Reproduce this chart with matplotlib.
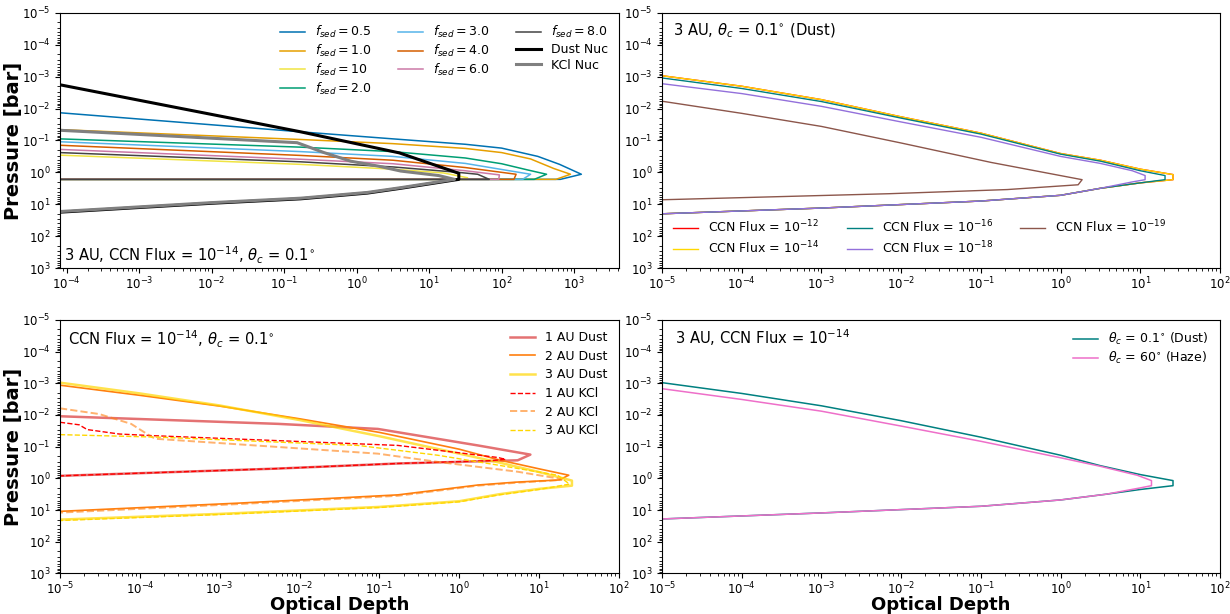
import numpy as np
import matplotlib
matplotlib.use("Agg")
import matplotlib.pyplot as plt

# ---------------- data (log10 values) ----------------
# Panel (a): fsed models, 3 AU, CCN flux 1e-14
fsed_labels = ["0.5", "1.0", "10", "2.0", "3.0", "4.0", "6.0", "8.0"]
fsed_colors = ["#0072B2", "#E69F00", "#F0E442", "#009E73", "#56B4E9", "#D55E00", "#CC79A7", "#444444"]

f05_lt = [-4.1, -0.77, 0.5, 1.5, 2.0, 2.5, 2.8, 3.10, 2.81, -12]
f05_lp = [-1.87, -1.27, -1.05, -0.88, -0.76, -0.50, -0.25, 0.06, 0.22, 0.22]
f10_lt = [-4.1, -0.77, 0.5, 1.5, 2.0, 2.4, 2.72, 2.95, 2.75, -12]
f10_lp = [-1.34, -1.03, -0.90, -0.75, -0.62, -0.42, -0.12, 0.06, 0.22, 0.22]
f100_lt = [-4.1, -0.77, 0.5, 1.2, 1.53, 1.53, -12]
f100_lp = [-0.54, -0.25, -0.10, 0.02, 0.17, 0.22, 0.22]
f20_lt = [-4.1, -0.77, 0.5, 1.5, 2.0, 2.35, 2.62, 2.45, -12]
f20_lp = [-1.05, -0.79, -0.65, -0.45, -0.27, -0.08, 0.06, 0.22, 0.22]
f30_lt = [-4.1, -0.77, 0.5, 1.5, 2.0, 2.40, 2.29, -12]
f30_lp = [-0.96, -0.65, -0.50, -0.28, -0.09, 0.06, 0.22, 0.22]
f40_lt = [-4.1, -0.77, 0.5, 1.5, 2.0, 2.20, 2.17, -12]
f40_lp = [-0.85, -0.53, -0.38, -0.15, 0.00, 0.06, 0.22, 0.22]
f60_lt = [-4.1, -0.77, 0.5, 1.5, 1.97, 1.96, -12]
f60_lp = [-0.72, -0.41, -0.27, -0.05, 0.08, 0.22, 0.22]
f80_lt = [-4.1, -0.77, 0.5, 1.4, 1.67, 1.83, -12]
f80_lp = [-0.62, -0.33, -0.17, 0.00, 0.06, 0.22, 0.22]

dustnuc_lt = [-4.1, -0.77, 0.59, 1.41, 1.41, 1.35, 0.61, 0.15, -0.77, -2.0, -4.1]
dustnuc_lp = [-2.75, -1.27, -0.61, 0.03, 0.22, 0.24, 0.50, 0.65, 0.83, 0.97, 1.25]
kclnuc_lt = [-4.1, -0.82, -0.45, -0.08, 0.31, 0.61, 1.13, 1.35, 0.61, 0.15, -0.77, -2.0, -4.1]
kclnuc_lp = [-1.32, -0.93, -0.62, -0.35, -0.19, -0.04, 0.10, 0.22, 0.48, 0.63, 0.81, 0.95, 1.23]

# Panel (b): CCN flux, 3 AU, theta_c = 0.1 deg (Dust)
ccn_labels = ["-12", "-14", "-16", "-18", "-19"]
ccn_colors = ["red", "gold", "#008080", "mediumpurple", "#8c564b"]
c12_lt = [-5, -4, -3, -2, -1, 0, 0.5, 1.0, 1.41, 1.41, 1.0, 0.5, 0, -1, -3, -5]
c12_lp = [-3.03, -2.70, -2.28, -1.74, -1.23, -0.59, -0.38, -0.10, 0.07, 0.23, 0.33, 0.50, 0.72, 0.90, 1.12, 1.30]
c14_lt = [-5, -4, -3, -2, -1, 0, 0.5, 1.0, 1.41, 1.41, 1.0, 0.5, 0, -1, -3, -5]
c14_lp = [-3.03, -2.70, -2.28, -1.74, -1.23, -0.59, -0.38, -0.10, 0.07, 0.23, 0.33, 0.50, 0.72, 0.90, 1.12, 1.30]
c16_lt = [-5, -4, -3, -2, -1, 0, 0.5, 1.0, 1.31, 1.31, 1.0, 0.5, 0, -1, -3, -5]
c16_lp = [-2.96, -2.63, -2.22, -1.70, -1.20, -0.57, -0.35, -0.05, 0.10, 0.23, 0.33, 0.50, 0.72, 0.90, 1.12, 1.30]
c18_lt = [-5, -4, -3, -2, -1, 0, 0.5, 0.9, 1.06, 1.06, 0.9, 0.5, 0, -1, -3, -5]
c18_lp = [-2.78, -2.47, -2.07, -1.58, -1.10, -0.50, -0.28, -0.05, 0.10, 0.23, 0.30, 0.50, 0.72, 0.90, 1.12, 1.30]
c19_lt = [-5, -4, -3, -2, -0.87, 0.27, 0.22, -0.67, -2.15, -5]
c19_lp = [-2.23, -1.85, -1.44, -0.92, -0.31, 0.23, 0.39, 0.54, 0.67, 0.86]

# Panel (c): distance, CCN flux 1e-14, theta_c = 0.1 deg
au_labels = ["1 AU Dust", "2 AU Dust", "3 AU Dust", "1 AU KCl", "2 AU KCl", "3 AU KCl"]
d1_lt = [-5, -2.27, -1.02, 0.23, 0.89, 0.73, -0.77, -2.27, -5]
d1_lp = [-1.96, -1.72, -1.56, -1.04, -0.75, -0.57, -0.47, -0.31, -0.08]
d2_lt = [-5, -4, -3, -2, -1, 0, 0.5, 1.0, 1.37, 1.25, 0.7, 0.23, -0.77, -2.76, -5]
d2_lp = [-2.94, -2.62, -2.28, -1.88, -1.45, -0.92, -0.58, -0.30, -0.10, 0.05, 0.12, 0.21, 0.52, 0.78, 1.04]
d3_lt = [-5, -4, -3, -2, -1, 0, 0.5, 1.0, 1.41, 1.41, 1.0, 0.5, 0, -1, -3, -5]
d3_lp = [-3.02, -2.68, -2.30, -1.84, -1.33, -0.78, -0.50, -0.20, 0.07, 0.23, 0.33, 0.50, 0.72, 0.90, 1.12, 1.30]
k1_lt = [-5, -4.76, -4.66, -4.26, -3.86, -0.77, 0.48, 0.58, 0.40, -0.77, -2.27, -5]
k1_lp = [-1.77, -1.69, -1.54, -1.40, -1.35, -1.04, -0.66, -0.60, -0.56, -0.47, -0.31, -0.08]
k2_lt = [-5, -4.51, -4.11, -3.91, -3.81, -1.02, -0.27, 0.73, 1.23, 1.28, 0.7, 0.23, -0.77, -2.76, -5]
k2_lp = [-2.21, -2.03, -1.72, -1.40, -1.25, -0.78, -0.52, -0.21, 0.00, 0.05, 0.14, 0.23, 0.55, 0.81, 1.08]
k3_lt = [-5, -3.76, -1.27, -0.27, 0.48, 1.23, 1.38, 1.0, 0.5, 0, -1, -3, -5]
k3_lp = [-1.38, -1.30, -1.04, -0.73, -0.42, -0.10, 0.18, 0.35, 0.52, 0.74, 0.92, 1.14, 1.33]

# Panel (d): contact angle, 3 AU, CCN flux 1e-14
th01_lt = [-5, -4, -3, -2, -1, 0, 0.5, 1.0, 1.41, 1.41, 1.0, 0.57, 0, -1, -3, -5]
th01_lp = [-3.02, -2.68, -2.29, -1.82, -1.30, -0.73, -0.40, -0.12, 0.07, 0.23, 0.35, 0.50, 0.68, 0.88, 1.09, 1.28]
th60_lt = [-5, -4, -3, -2, -1, 0, 0.5, 0.96, 1.14, 1.14, 1.0, 0.57, 0, -1, -3, -5]
th60_lp = [-2.83, -2.49, -2.12, -1.65, -1.17, -0.65, -0.38, -0.10, 0.07, 0.23, 0.30, 0.50, 0.68, 0.88, 1.09, 1.28]

yticks_exp = list(range(-5, 4))


def P(v):
    return 10.0 ** np.asarray(v, dtype=float)


fig = plt.figure(figsize=(12.3, 6.14), dpi=100)
ax1 = fig.add_axes([0.0488, 0.5635, 0.4545, 0.4155])
ax2 = fig.add_axes([0.5382, 0.5635, 0.4537, 0.4155])
ax3 = fig.add_axes([0.0488, 0.066, 0.4545, 0.4130])
ax4 = fig.add_axes([0.5382, 0.066, 0.4537, 0.4130])

LFS = 9

# Panel a
fsed_data = [(f05_lt, f05_lp), (f10_lt, f10_lp), (f100_lt, f100_lp), (f20_lt, f20_lp),
             (f30_lt, f30_lp), (f40_lt, f40_lp), (f60_lt, f60_lp), (f80_lt, f80_lp)]
for (lt, lp), lab, col in zip(fsed_data, fsed_labels, fsed_colors):
    ax1.plot(P(lt), P(lp), color=col, lw=1.1, label=r"$f_{sed} = %s$" % lab)
ax1.plot(P(dustnuc_lt), P(dustnuc_lp), color="black", lw=2.2, label="Dust Nuc")
ax1.plot(P(kclnuc_lt), P(kclnuc_lp), color="gray", lw=2.2, label="KCl Nuc")
ax1.set_xlim(10 ** -4.09, 10 ** 3.62)
ax1.legend(loc="upper right", ncol=3, frameon=False, fontsize=LFS, columnspacing=2.1,
           labelspacing=0.22)
ax1.text(0.008, 0.05, r"3 AU, CCN Flux = $10^{-14}$, $\theta_c$ = 0.1$^{\circ}$",
         transform=ax1.transAxes, fontsize=10.6, va="center")

# Panel b
ccn_data = [(c12_lt, c12_lp), (c14_lt, c14_lp), (c16_lt, c16_lp), (c18_lt, c18_lp), (c19_lt, c19_lp)]
for (lt, lp), lab, col in zip(ccn_data, ccn_labels, ccn_colors):
    ax2.plot(P(lt), P(lp), color=col, lw=1.0, label=r"CCN Flux = $10^{%s}$" % lab)
ax2.set_xlim(1e-5, 1e2)
ax2.legend(loc="lower left", ncol=3, frameon=False, fontsize=LFS, columnspacing=2.2,
           labelspacing=0.4)
ax2.text(0.02, 0.93, r"3 AU, $\theta_c$ = 0.1$^{\circ}$ (Dust)", transform=ax2.transAxes,
         fontsize=10.6, va="center")

# Panel c
ax3.plot(P(d1_lt), P(d1_lp), color="#d62728", lw=1.8, alpha=0.65, label=au_labels[0])
ax3.plot(P(d2_lt), P(d2_lp), color="#ff7f0e", lw=1.2, label=au_labels[1])
ax3.plot(P(d3_lt), P(d3_lp), color="gold", lw=1.8, alpha=0.7, label=au_labels[2])
ax3.plot(P(k1_lt), P(k1_lp), color="red", lw=1.0, ls="--", label=au_labels[3])
ax3.plot(P(k2_lt), P(k2_lp), color="#ff7f0e", lw=1.4, ls="--", alpha=0.6, label=au_labels[4])
ax3.plot(P(k3_lt), P(k3_lp), color="gold", lw=1.0, ls="--", label=au_labels[5])
ax3.set_xlim(1e-5, 1e2)
ax3.legend(loc="upper right", frameon=False, fontsize=LFS, labelspacing=0.45)
ax3.text(0.014, 0.922, r"CCN Flux = $10^{-14}$, $\theta_c$ = 0.1$^{\circ}$", transform=ax3.transAxes,
         fontsize=10.6, va="center")

# Panel d
ax4.plot(P(th01_lt), P(th01_lp), color="#008080", lw=1.1, label=r"$\theta_c$ = 0.1$^{\circ}$ (Dust)")
ax4.plot(P(th60_lt), P(th60_lp), color="#ee6fc9", lw=1.1, label=r"$\theta_c$ = 60$^{\circ}$ (Haze)")
ax4.set_xlim(1e-5, 1e2)
ax4.legend(loc="upper right", frameon=False, fontsize=LFS, labelspacing=0.25)
ax4.text(0.023, 0.93, r"3 AU, CCN Flux = $10^{-14}$", transform=ax4.transAxes,
         fontsize=10.6, va="center")

for ax in (ax1, ax2, ax3, ax4):
    ax.set_xscale("log")
    ax.set_yscale("log")
    ax.set_ylim(1e3, 1e-5)
    ax.set_yticks([10.0 ** e for e in yticks_exp])
    ax.yaxis.set_minor_locator(matplotlib.ticker.LogLocator(base=10, subs=np.arange(2, 10), numticks=20))
    ax.xaxis.set_minor_locator(matplotlib.ticker.LogLocator(base=10, subs=np.arange(2, 10), numticks=20))
    ax.tick_params(labelsize=8.5)
    ax.tick_params(axis="x", pad=2)

for ax in (ax1, ax3):
    ax.set_ylabel("Pressure [bar]", fontsize=14, fontweight="bold")
    ax.yaxis.set_label_coords(-0.067, 0.5)
for ax in (ax3, ax4):
    ax.set_xlabel("Optical Depth", fontsize=13, fontweight="bold", labelpad=-1.5)

fig.savefig("out.png", dpi=100)
